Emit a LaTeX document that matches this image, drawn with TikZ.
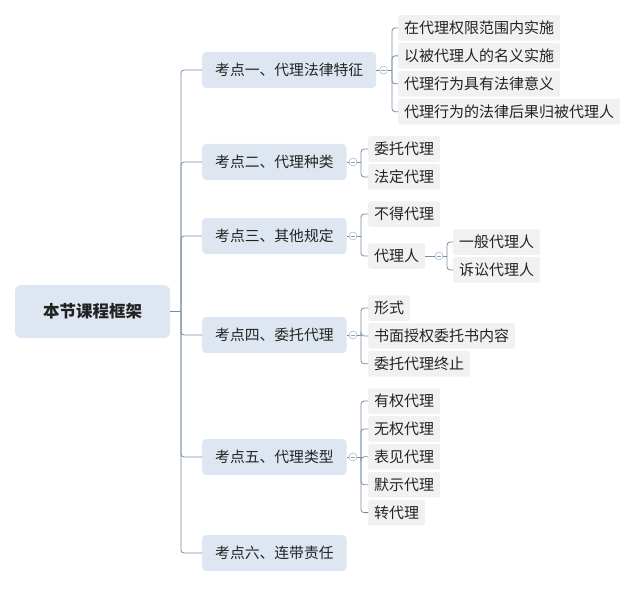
\documentclass[tikz,border=0pt]{standalone}
\usepackage{fontspec}
\setmainfont{Noto Sans CJK SC}
\usepackage{xcolor}
\definecolor{topicfill}{RGB}{222,231,241}
\definecolor{leaffill}{RGB}{241,241,241}
\definecolor{linec}{RGB}{118,140,163}
\definecolor{textc}{RGB}{35,35,35}
\usetikzlibrary{positioning}

\begin{document}
\begin{tikzpicture}[x=1pt, y=-1pt,
    rootbox/.style={rectangle, fill=topicfill, rounded corners=6pt,
                 minimum width=155pt, minimum height=53pt, text=textc,
                 font=\fontsize{16.5}{18}\selectfont\bfseries},
    topic/.style={rectangle, fill=topicfill, rounded corners=4pt, anchor=west,
                 minimum height=36pt, inner xsep=13pt, text=textc,
                 font=\fontsize{14.8}{16}\selectfont},
    leaf/.style={rectangle, fill=leaffill, rounded corners=2pt,
                 minimum height=25.5pt, inner xsep=6pt, inner ysep=0pt, text=textc,
                 font=\fontsize{15}{16}\selectfont},
    fold/.style={circle, draw=linec!80, fill=white, minimum size=8pt, inner sep=0pt,
                 path picture={\draw[linec!80] ([xshift=-2.2pt]path picture bounding box.center)
                   -- ([xshift=2.2pt]path picture bounding box.center);}},
    link/.style={draw=linec, line width=0.8pt, rounded corners=3pt},
  ]
    \useasboundingbox (0,0) rectangle (644,588);

    \node[rootbox] (root) at (92.5,311.5) {本节课程框架};

    \node[topic] (k1) at (202,70)  {考点一、代理法律特征};
    \node[topic] (k2) at (202,162) {考点二、代理种类};
    \node[topic] (k3) at (202,236) {考点三、其他规定};
    \node[topic] (k4) at (202,335) {考点四、委托代理};
    \node[topic] (k5) at (202,457) {考点五、代理类型};
    \node[topic] (k6) at (202,553) {考点六、连带责任};

    \node[leaf, anchor=west] (l11) at (398,28) {在代理权限范围内实施};
    \node[leaf, below=2pt of l11.south west, anchor=north west] (l12) {以被代理人的名义实施};
    \node[leaf, below=2pt of l12.south west, anchor=north west] (l13) {代理行为具有法律意义};
    \node[leaf, below=2pt of l13.south west, anchor=north west] (l14) {代理行为的法律后果归被代理人};

    \node[leaf, anchor=west] (l21) at (368,149) {委托代理};
    \node[leaf, below=2pt of l21.south west, anchor=north west] (l22) {法定代理};

    \node[leaf, anchor=west] (l31) at (368,214) {不得代理};
    \node[leaf, anchor=west] (l32) at (368,256) {代理人};
    \node[leaf, anchor=west] (m1) at (453,242) {一般代理人};
    \node[leaf, below=2pt of m1.south west, anchor=north west] (m2) {诉讼代理人};

    \node[leaf, anchor=west] (l41) at (368,308) {形式};
    \node[leaf, below=2pt of l41.south west, anchor=north west] (l42) {书面授权委托书内容};
    \node[leaf, below=2pt of l42.south west, anchor=north west] (l43) {委托代理终止};

    \node[leaf, anchor=west] (l51) at (368,401) {有权代理};
    \node[leaf, below=2pt of l51.south west, anchor=north west] (l52) {无权代理};
    \node[leaf, below=2pt of l52.south west, anchor=north west] (l53) {表见代理};
    \node[leaf, below=2pt of l53.south west, anchor=north west] (l54) {默示代理};
    \node[leaf, below=2pt of l54.south west, anchor=north west] (l55) {转代理};

    \coordinate (trunk) at (181,311.5);
    \draw[link] (root) -- (trunk);
    \foreach \k in {k1,k2,k3,k4,k5,k6}
      \draw[link] (trunk) |- (\k);

    \coordinate (b1) at (392,70);
    \coordinate (b2) at (361,162);
    \coordinate (b3) at (361,236);
    \coordinate (b3m) at (447,256);
    \coordinate (b4) at (361,335);
    \coordinate (b5) at (361,457);

    \draw[link] (k1) -- (b1);
    \foreach \l in {l11,l12,l13,l14} \draw[link] (b1) |- (\l);
    \draw[link] (k2) -- (b2);
    \foreach \l in {l21,l22} \draw[link] (b2) |- (\l);
    \draw[link] (k3) -- (b3);
    \foreach \l in {l31,l32} \draw[link] (b3) |- (\l);
    \draw[link] (l32) -- (b3m);
    \foreach \l in {m1,m2} \draw[link] (b3m) |- (\l);
    \draw[link] (k4) -- (b4);
    \foreach \l in {l41,l42,l43} \draw[link] (b4) |- (\l);
    \draw[link] (k5) -- (b5);
    \foreach \l in {l51,l52,l53,l54,l55} \draw[link] (b5) |- (\l);

    \node[fold] (f1) at (383.5,70) {};
    \node[fold] (f2) at (353,162) {};
    \node[fold] (f3) at (353,236) {};
    \node[fold] (f3m) at (439,256) {};
    \node[fold] (f4) at (353,335) {};
    \node[fold] (f5) at (353,457) {};
  \end{tikzpicture}
\end{document}
